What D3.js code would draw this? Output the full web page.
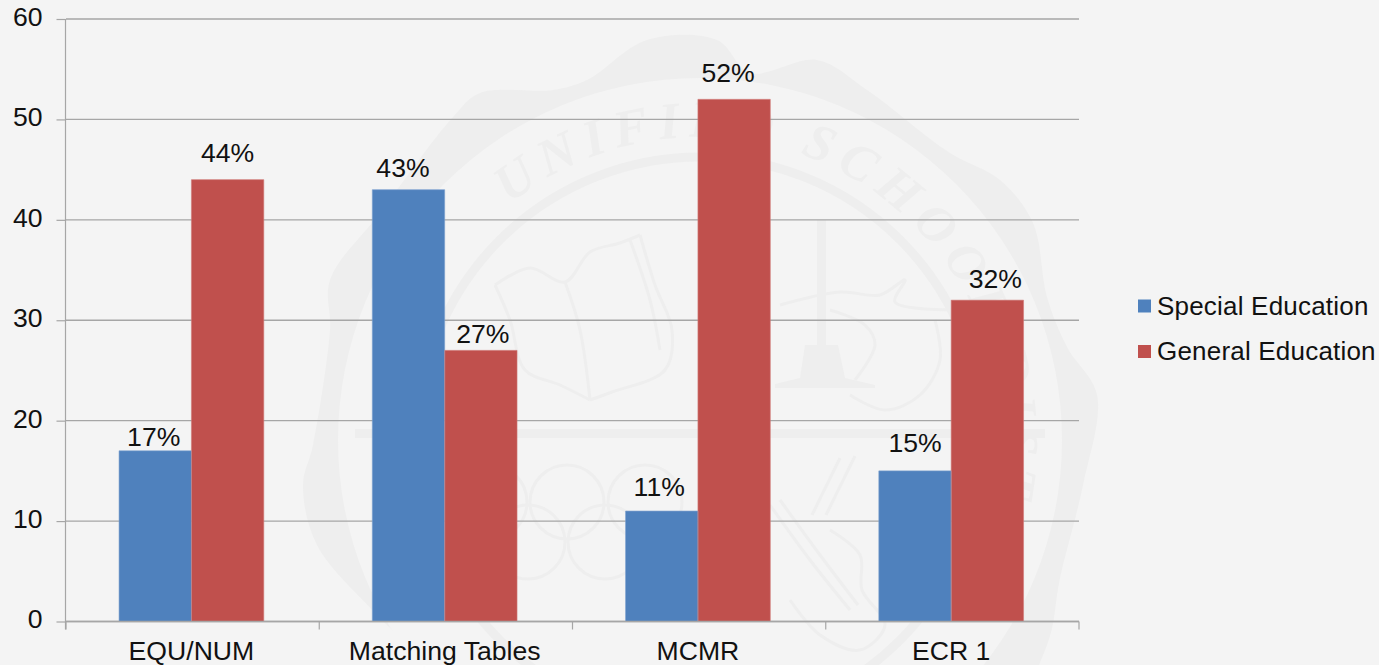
<!DOCTYPE html>
<html>
<head>
<meta charset="utf-8">
<script src="https://cdn.jsdelivr.net/npm/d3@7"></script>
<style>
  html, body { margin: 0; padding: 0; background: #f4f4f4; overflow: hidden; }
  text { font-family: "Liberation Sans", Arial, sans-serif; font-size: 26.6px; fill: #111; }
  .legend text { font-size: 26px; }
  .seal text { font-family: "Liberation Serif", serif; font-style: italic; font-weight: bold; font-size: 52px; fill: #eeeeee; }
</style>
</head>
<body>
<script>
const categories = ["EQU/NUM", "Matching Tables", "MCMR", "ECR 1"]
const seriesNames = ["Special Education", "General Education"]
const specialEd = [17, 43, 11, 15]
const generalEd = [44, 27, 52, 32]
const yTicks = [0, 10, 20, 30, 40, 50, 60]

// hand placed data labels in the original, offset from bar centre / bar top
const labelNudge = [
  [[-1.5, 5], [0, 18]],
  [[-5.5, 13], [2, 7.5]],
  [[-2.5, 15], [-6, 17.5]],
  [[0, 19], [8, 12]]
]

const colors = ["#4f81bd", "#c0504d"]
const edges = ["#7aa0cf", "#d07a78"]
const gridColor = "#a6a6a6"
const sealColor = "#eeeeee"

const width = 1379, height = 665
const plot = { left: 66, right: 1079, top: 19, bottom: 621.5 }

let svg = d3.select("body")
            .append("svg")
              .attr("width", width)
              .attr("height", height)
              .style("display", "block")

svg.append("rect")
    .attr("width", width)
    .attr("height", height)
    .attr("fill", "#f4f4f4")

// faint school seal behind the chart
const seal = svg.append("g").attr("class", "seal")
const cx = 700, cy = 440

const outerEdge = [
  [647,40],[717,40],[750,73],[817,60],[867,90],[950,153],[1000,180],[1033,223],[1047,297],
  [1067,347],[1097,395],[1083,485],[1060,578],[1047,645],[1000,720],[700,840],[420,720],[420,660],
  [380,618],[317,545],[303,485],[313,445],[330,330],[330,280],[380,213],[453,117],[480,93],[553,90],[587,80]
]
seal.append("path")
    .attr("d", d3.line().curve(d3.curveCatmullRomClosed)(outerEdge))
    .attr("fill", sealColor)
seal.append("circle")
    .attr("cx", cx).attr("cy", cy).attr("r", 362)
    .attr("fill", "#f4f4f4")
seal.append("circle")
    .attr("cx", cx).attr("cy", cy).attr("r", 283)
    .attr("fill", "none")
    .attr("stroke", sealColor)
    .attr("stroke-width", 9)

seal.append("defs").append("path")
    .attr("id", "sealArc")
    .attr("d", d3.arc()({ innerRadius: 303, outerRadius: 303, startAngle: -0.68, endAngle: 1.85 }).split("L")[0])
    .attr("transform", `translate(${cx},${cy})`)
seal.append("text")
    .attr("letter-spacing", 9)
  .append("textPath")
    .attr("href", "#sealArc")
    .text("UNIFIED SCHOOL DISTRICT")

const sealLine = d3.line().curve(d3.curveCatmullRom)
const sealStrokes = [
  // book
  [[495,285],[530,268],[565,282],[590,252],[620,243],[640,235]],
  [[640,235],[655,285],[672,330],[665,370],[612,392],[590,400]],
  [[495,285],[510,320],[525,370],[560,385],[590,400]],
  [[565,282],[580,330],[590,400]],
  [[630,240],[650,300],[660,350]],
  // stand on the right
  [[780,305],[840,292],[880,295],[905,280],[895,302],[960,310]],
  [[830,310],[865,325],[875,345],[855,380]],
  [[850,395],[885,410],[920,395],[940,360],[935,320]],
  // pen and violin
  [[840,458],[812,515]],[[855,456],[826,515]],
  [[770,505],[810,560],[850,610]],[[780,500],[820,555],[858,605]],
  [[830,530],[860,555],[862,590],[885,625],[860,650],[820,635],[790,600]]
]
sealStrokes.forEach(d => {
  seal.append("path")
      .attr("d", sealLine(d))
      .attr("fill", "none")
      .attr("stroke", sealColor)
      .attr("stroke-width", 3)
})

// column, base and the band across the middle
seal.append("rect").attr("x", 817).attr("y", 220).attr("width", 9).attr("height", 150).attr("fill", sealColor)
seal.append("path")
    .attr("d", d3.line()([[805,345],[838,345],[845,378],[875,385],[875,388],[775,388],[775,384],[800,378]]))
    .attr("fill", sealColor)
seal.append("rect").attr("x", 355).attr("y", 429).attr("width", 690).attr("height", 9).attr("fill", sealColor)

// olympic rings
const ringX = [490, 567, 645, 528, 605]
const ringY = [502, 502, 502, 542, 542]
ringX.forEach((d, i) => {
  seal.append("circle")
      .attr("cx", d).attr("cy", ringY[i]).attr("r", 37)
      .attr("fill", "none")
      .attr("stroke", sealColor)
      .attr("stroke-width", 3)
})

// scales
const x0 = d3.scaleBand()
    .domain(categories)
    .range([plot.left - 1.2, plot.right - 1.2])
    .paddingInner(0.4285)
    .paddingOuter(0.2142)

const x1 = d3.scaleBand()
    .domain(seriesNames)
    .range([0, x0.bandwidth()])

const y = d3.scaleLinear()
    .domain([0, 60])
    .range([plot.bottom, plot.top])

// gridlines
svg.append("g")
  .selectAll("line")
  .data(yTicks)
  .enter()
  .append("line")
    .attr("x1", plot.left)
    .attr("x2", plot.right)
    .attr("y1", d => y(d))
    .attr("y2", d => y(d))
    .attr("stroke", gridColor)
    .attr("stroke-width", 1.4)

// y axis
const yAxis = svg.append("g")
    .attr("transform", `translate(${plot.left - 0.5},0)`)
    .call(d3.axisLeft(y).tickValues(yTicks).tickSize(9).tickPadding(14))
yAxis.selectAll("path, line").attr("stroke", gridColor).attr("stroke-width", 1.2)
yAxis.select(".domain").attr("d", `M0,${plot.top}V${plot.bottom + 8}`)
yAxis.selectAll("text")
    .attr("dy", "0.24em")
yAxis.attr("font-size", null).attr("font-family", null)

// bars
const series = [specialEd, generalEd]
series.forEach((vals, s) => {
  svg.append("g")
    .selectAll("rect")
    .data(vals)
    .enter()
    .append("rect")
      .attr("x", (d, i) => x0(categories[i]) + x1(seriesNames[s]))
      .attr("y", d => y(d))
      .attr("width", x1.bandwidth())
      .attr("height", d => y(0) - y(d))
      .attr("fill", colors[s])
})
// lighter outer edge on the bars
series.forEach((vals, s) => {
  svg.append("g")
    .selectAll("path")
    .data(vals)
    .enter()
    .append("path")
      .attr("d", (d, i) => {
        const l = x0(categories[i]) + x1(seriesNames[s]), r = l + x1.bandwidth()
        return d3.line()([[l, y(0)], [l, y(d)], [r, y(d)], [r, y(0)]])
      })
      .attr("fill", "none")
      .attr("stroke", edges[s])
      .attr("stroke-width", 0.6)
})

// x axis line, separators and labels
const xAxis = svg.append("g")
    .attr("transform", `translate(0,${plot.bottom})`)
    .call(d3.axisBottom(x0).tickSize(0).tickPadding(20))
xAxis.select(".domain")
    .attr("d", `M${plot.left},0H${plot.right}`)
    .attr("stroke", gridColor)
    .attr("stroke-width", 1.4)
xAxis.attr("font-size", null).attr("font-family", null)
xAxis.selectAll("text").attr("dy", "0.71em")

const seps = d3.range(categories.length + 1).map(i => plot.left + i * (plot.right - plot.left) / categories.length)
xAxis.selectAll(".sep")
    .data(seps)
    .enter()
    .append("line")
      .attr("class", "sep")
      .attr("x1", d => d)
      .attr("x2", d => d)
      .attr("y1", 0)
      .attr("y2", 8)
      .attr("stroke", gridColor)
      .attr("stroke-width", 1.2)

// data labels
series.forEach((vals, s) => {
  svg.append("g")
    .selectAll("text")
    .data(vals)
    .enter()
    .append("text")
      .attr("text-anchor", "middle")
      .attr("x", (d, i) => x0(categories[i]) + x1(seriesNames[s]) + x1.bandwidth() / 2 + labelNudge[i][s][0])
      .attr("y", (d, i) => y(d) - labelNudge[i][s][1])
      .text(d => d + "%")
})

// legend
const legend = svg.selectAll(".legend")
    .data(seriesNames)
    .enter()
    .append("g")
      .attr("class", "legend")
      .attr("transform", (d, i) => `translate(1138,${299.5 + i * 45.5})`)

legend.append("rect")
    .attr("width", 13)
    .attr("height", 13)
    .attr("fill", (d, i) => colors[i])

legend.append("text")
    .attr("x", 19)
    .attr("y", 15)
    .attr("letter-spacing", 0.2)
    .text(d => d)
</script>
</body>
</html>
